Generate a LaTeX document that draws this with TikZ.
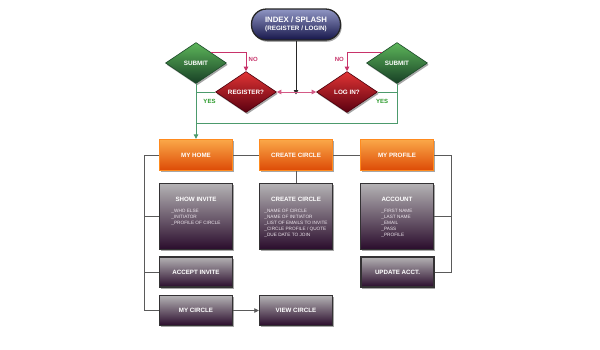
\documentclass[tikz,border=0pt]{standalone}
\usepackage{fontspec}
\setmainfont{Liberation Sans}
\usetikzlibrary{shapes.geometric,shadows,arrows.meta}
\definecolor{orTop}{HTML}{FAA848}
\definecolor{orMid}{HTML}{F47A1C}
\definecolor{orBot}{HTML}{DD4A06}
\definecolor{orBorder}{HTML}{FF8A1E}
\definecolor{dkTop}{HTML}{B4B2B4}
\definecolor{dkMid}{HTML}{6A5868}
\definecolor{dkBot}{HTML}{2A0C2C}
\definecolor{dkBorder}{HTML}{343234}
\definecolor{nvTop}{HTML}{9096C4}
\definecolor{nvMid}{HTML}{3C3E7A}
\definecolor{nvBot}{HTML}{16164A}
\definecolor{grTop}{HTML}{5DB65A}
\definecolor{grMid}{HTML}{34873C}
\definecolor{grBot}{HTML}{173F25}
\definecolor{grBorder}{HTML}{1D4A2A}
\definecolor{rdTop}{HTML}{E23434}
\definecolor{rdMid}{HTML}{B41418}
\definecolor{rdBot}{HTML}{5A0010}
\definecolor{rdBorder}{HTML}{4A000C}
\definecolor{noLine}{HTML}{C8336A}
\definecolor{midLine}{HTML}{D45A86}
\definecolor{yesLine}{HTML}{4C9A6C}
\definecolor{yesText}{HTML}{2A9A2A}
\definecolor{busLine}{HTML}{5A5A5A}
\definecolor{itemText}{HTML}{ECE4EC}
\newcommand{\ttlfont}{\fontsize{6.2}{7}\selectfont\bfseries}
\newcommand{\itmfont}{\fontsize{4.7}{6}\selectfont}
\begin{document}
\begin{tikzpicture}[x=1pt,y=-1pt,
  shade/.style={drop shadow={shadow xshift=1.2pt,shadow yshift=-1.8pt,opacity=0.35,fill=black}},
  orangebox/.style={rectangle,shade,draw=orBorder,line width=1.3pt,top color=orTop,middle color=orMid,bottom color=orBot,
    minimum width=73pt,minimum height=31pt,inner sep=0pt,text=white,font=\ttlfont},
  darkbox/.style={rectangle,shade,draw=dkBorder,line width=1.4pt,top color=dkTop,middle color=dkMid,bottom color=dkBot,
    minimum width=73pt,inner sep=0pt,text=white,font=\ttlfont},
  tallbox/.style={darkbox,minimum height=66pt},
  shortbox/.style={darkbox,minimum height=30pt},
  boxtitle/.style={text=white,font=\ttlfont,inner sep=0pt},
  boxitems/.style={text=itemText,font=\itmfont,align=left,inner sep=0pt,anchor=north},
  diam/.style={diamond,shade,minimum width=61pt,minimum height=41pt,inner sep=0pt,line width=0.6pt,
    text=white,font={\fontsize{6.3}{7}\selectfont\bfseries}},
  greend/.style={diam,draw=grBorder,top color=grTop,middle color=grMid,bottom color=grBot},
  redd/.style={diam,draw=rdBorder,top color=rdTop,middle color=rdMid,bottom color=rdBot},
  nolbl/.style={text=noLine,font={\fontsize{6}{7}\selectfont\bfseries},inner sep=0pt},
  yeslbl/.style={text=yesText,font={\fontsize{6}{7}\selectfont\bfseries},inner sep=0pt},
  noline/.style={draw=noLine,line width=0.8pt},
  yesline/.style={draw=yesLine,line width=0.8pt},
  busline/.style={draw=busLine,line width=0.8pt},
  tip/.style={-{Triangle[length=4.5pt,width=4.5pt]}}
]
\useasboundingbox[fill=white] (0,0) rectangle (600,349);

% top pill
\node[rectangle,rounded corners=15pt,shade,draw=black!85,line width=1.3pt,top color=nvTop,middle color=nvMid,bottom color=nvBot,
  minimum width=89pt,minimum height=31pt,inner sep=0pt,text=white,align=center,
  font={\fontsize{6.3}{8.6}\selectfont\bfseries}] (index) at (296,24.5)
  {{\fontsize{7.8}{8.6}\selectfont INDEX / SPLASH}\\(REGISTER / LOGIN)};

% diamonds
\node[greend] (submitL) at (196,63) {\makebox[0pt]{SUBMIT}};
\node[greend] (submitR) at (397,63) {\makebox[0pt]{SUBMIT}};
\node[redd] (reg) at (246,92) {\makebox[0pt]{REGISTER?}};
\node[redd] (login) at (347,92) {\makebox[0pt]{LOG IN?}};

% orange row
\node[orangebox] (myhome) at (196,155) {MY HOME};
\node[orangebox] (ccO) at (296,155) {CREATE CIRCLE};
\node[orangebox] (myprof) at (397,155) {MY PROFILE};

% dark boxes
\node[tallbox] (showinv) at (196,216.5) {};
\node[tallbox] (ccbox) at (296,216.5) {};
\node[tallbox] (account) at (397,216.5) {};
\node[boxtitle] (showinvT) at (196,199) {SHOW INVITE};
\node[boxtitle] (ccboxT) at (296,199) {CREATE CIRCLE};
\node[boxtitle] (accountT) at (397,199) {ACCOUNT};
\node[boxitems] (showinvI) at (196,209.5) {\_WHO ELSE\\\_INITIATOR\\\_PROFILE OF CIRCLE};
\node[boxitems] (ccboxI) at (296,209.5) {\_NAME OF CIRCLE\\\_NAME OF INITIATOR\\\_LIST OF EMAILS TO INVITE\\\_CIRCLE PROFILE / QUOTE\\\_DUE DATE TO JOIN};
\node[boxitems] (accountI) at (397,209.5) {\_FIRST NAME\\\_LAST NAME\\\_EMAIL\\\_PASS\\\_PROFILE};
\node[shortbox] (accept) at (196,272) {ACCEPT INVITE};
\node[shortbox] (update) at (397.5,272) {UPDATE ACCT.};
\node[shortbox] (mycircle) at (196,310.5) {MY CIRCLE};
\node[shortbox] (viewc) at (296,310.5) {VIEW CIRCLE};

% bus coordinates
\coordinate (busL) at (144,155);
\coordinate (busR) at (451,155);
\coordinate (yesB) at (397,123);

% index arrow and register/login link
\coordinate (mid) at (296,92);
\draw[draw=black!85,line width=0.9pt,tip] (index.south) -- ([yshift=-2.5pt]mid);
\draw[draw=midLine,line width=0.8pt,tip] (mid) -- (reg.east);
\draw[draw=midLine,line width=0.8pt,tip] (mid) -- (login.west);

% NO loops
\draw[noline,tip] (submitL.north east) -| (reg.north);
\draw[noline,tip] (submitR.north west) -| (login.north);
\node[nolbl,anchor=west] (noL) at (248.5,59) {NO};
\node[nolbl,anchor=east] (noR) at (344,59) {NO};

% YES paths
\draw[yesline] (reg.west) -- (reg.west -| submitL.south);
\draw[yesline] (login.east) -- (login.east -| submitR.south);
\draw[yesline] (submitR.south) -- (yesB) -- (yesB -| submitL.south);
\draw[yesline,tip] (submitL.south) -- (myhome.north);
\node[yeslbl] (yesL) at (209.5,101) {YES};
\node[yeslbl] (yesR) at (382,101) {YES};

% orange row links
\draw[busline] (busL) -- (myhome.west);
\draw[busline] (myhome.east) -- (ccO.west);
\draw[busline] (ccO.east) -- (myprof.west);
\draw[busline] (myprof.east) -- (busR);
\draw[busline] (ccO.south) -- (ccbox.north);

% left bus
\draw[busline] (busL) |- (mycircle.west);
\draw[busline] ([yshift=0.5pt]showinv.west) -- ([yshift=0.5pt]showinv.west -| busL);
\draw[busline] (accept.west) -- (accept.west -| busL);
\draw[busline,tip] (mycircle.east) -- (viewc.west);

% right bus
\draw[busline] (busR) |- (update.east);
\draw[busline] ([yshift=0.5pt]account.east) -- ([yshift=0.5pt]account.east -| busR);
\end{tikzpicture}
\end{document}
